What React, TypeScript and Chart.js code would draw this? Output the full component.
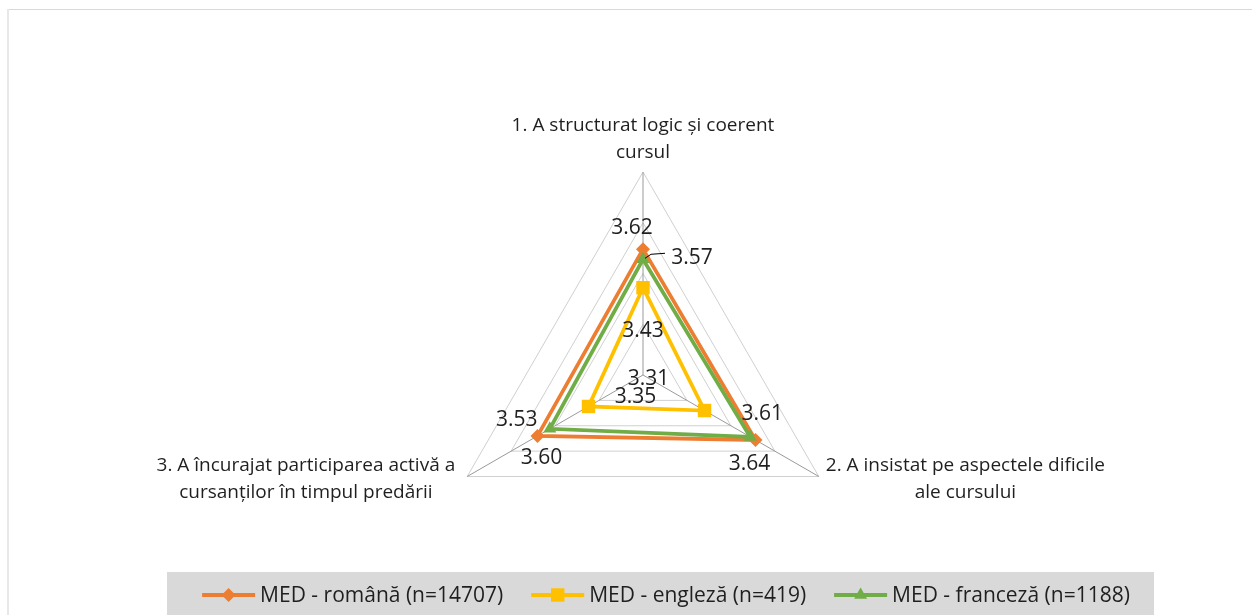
import { useEffect, useRef } from 'react';
import { Chart, registerables } from 'chart.js';

Chart.register(...registerables);

// ---- data ----
const categories: string[][] = [
  ['1. A structurat logic și coerent', 'cursul'],
  ['2. A insistat pe aspectele dificile', 'ale cursului'],
  ['3. A încurajat participarea activă a', 'cursanților în timpul predării'],
];
const seriesNames = ['MED - română (n=14707)', 'MED - engleză (n=419)', 'MED - franceză (n=1188)'];
const romana = [3.62, 3.64, 3.6];
const engleza = [3.43, 3.35, 3.31];
const franceza = [3.57, 3.61, 3.53];
const scaleMin = 3;
const scaleMax = 4;
const scaleStep = 0.25;

// ---- styling (not data) ----
const colors = ['#ED7D31', '#FFC000', '#70AD47'];
const markers = ['rectRot', 'rect', 'triangle'];
const markerRadius = [7, 9.5, 7.5];
const drawOrder = [3, 2, 1];
// label offsets from each point (dx, dy), per series per category
const labelOffsets = [
  [[-11, -21], [-6, 24], [4, 22]],
  [[0, 43], [-69, -14], [60, -27]],
  [[49, -1], [12, -23], [-33, -9]],
];
const FONT = '"Open Sans", Lato, sans-serif';
const TEXT = '#1f1f1f';

function fmt(v: number) {
  return v.toFixed(2);
}

function drawMarker(ctx: CanvasRenderingContext2D, kind: string, x: number, y: number, r: number, color: string) {
  ctx.save();
  ctx.fillStyle = color;
  ctx.beginPath();
  if (kind === 'rectRot') {
    ctx.moveTo(x, y - r);
    ctx.lineTo(x + r, y);
    ctx.lineTo(x, y + r);
    ctx.lineTo(x - r, y);
  } else if (kind === 'rect') {
    const s = r * Math.SQRT1_2;
    ctx.rect(x - s, y - s, 2 * s, 2 * s);
  } else {
    ctx.moveTo(x, y - r);
    ctx.lineTo(x + r * Math.sin((2 * Math.PI) / 3), y - r * Math.cos((2 * Math.PI) / 3));
    ctx.lineTo(x + r * Math.sin((4 * Math.PI) / 3), y - r * Math.cos((4 * Math.PI) / 3));
  }
  ctx.closePath();
  ctx.fill();
  ctx.restore();
}

const decorPlugin = {
  id: 'decor',
  beforeDraw(chart: any) {
    const ctx: CanvasRenderingContext2D = chart.ctx;
    ctx.save();
    ctx.fillStyle = '#ffffff';
    ctx.fillRect(0, 0, chart.width, chart.height);
    // outer chart border (top and left visible)
    ctx.fillStyle = '#d9d9d9';
    ctx.fillRect(8, 9, chart.width - 8, 1);
    ctx.fillStyle = '#e8e8e8';
    ctx.fillRect(7, 9, 2, chart.height - 9);
    // legend background
    ctx.fillStyle = '#d9d9d9';
    ctx.fillRect(167, 572, 1154 - 167, chart.height - 572);
    ctx.restore();
  },
  afterDraw(chart: any) {
    const ctx: CanvasRenderingContext2D = chart.ctx;
    const scale = chart.scales.r;
    ctx.save();
    // category labels
    ctx.font = `19px ${FONT}`;
    ctx.fillStyle = TEXT;
    ctx.textAlign = 'center';
    ctx.textBaseline = 'middle';
    categories.forEach((lines, i) => {
      const p = scale.getPointPosition(i, scale.drawingArea);
      const w = Math.max(...lines.map((l) => ctx.measureText(l).width));
      let cx = p.x;
      let y0 = p.y;
      if (i === 0) {
        y0 = p.y - 46;
      } else if (i === 1) {
        cx = p.x + 7 + w / 2;
        y0 = p.y - 11;
      } else {
        cx = p.x - 12 - w / 2;
        y0 = p.y - 11;
      }
      lines.forEach((l, k) => ctx.fillText(l, cx, y0 + k * 27));
    });

    // data labels
    ctx.font = `21px ${FONT}`;
    chart.data.datasets.forEach((ds: any, di: number) => {
      const meta = chart.getDatasetMeta(di);
      meta.data.forEach((pt: any, i: number) => {
        const [dx, dy] = labelOffsets[di][i];
        const tx = pt.x + dx;
        const ty = pt.y + dy;
        if (di === 2 && i === 0) {
          // leader line
          ctx.strokeStyle = '#000000';
          ctx.lineWidth = 1;
          ctx.beginPath();
          ctx.moveTo(pt.x + 2, pt.y - 1);
          ctx.lineTo(pt.x + 8, pt.y - 5);
          ctx.lineTo(pt.x + 22, pt.y - 6);
          ctx.stroke();
        }
        ctx.fillStyle = TEXT;
        ctx.fillText(fmt(ds.data[i]), tx, ty);
      });
    });

    // legend
    ctx.font = `21px ${FONT}`;
    ctx.textAlign = 'left';
    const lineLen = 53;
    const gapText = 5;
    const gapItem = 28;
    const widths = seriesNames.map((n) => ctx.measureText(n).width);
    const total = widths.reduce((a, w) => a + lineLen + gapText + w, 0) + gapItem * (seriesNames.length - 1);
    let x = 666 - total / 2;
    const ly = 595;
    seriesNames.forEach((name, i) => {
      ctx.strokeStyle = colors[i];
      ctx.lineWidth = 4;
      ctx.beginPath();
      ctx.moveTo(x, ly);
      ctx.lineTo(x + lineLen, ly);
      ctx.stroke();
      drawMarker(ctx, markers[i], x + lineLen / 2, ly, markerRadius[i], colors[i]);
      ctx.fillStyle = TEXT;
      ctx.fillText(name, x + lineLen + gapText, ly + 1);
      x += lineLen + gapText + widths[i] + gapItem;
    });
    ctx.restore();
  },
};

export default function App() {
  const ref = useRef<HTMLCanvasElement | null>(null);
  useEffect(() => {
    if (!ref.current) return;
    const series = [romana, engleza, franceza];
    const chart = new Chart(ref.current, {
      type: 'radar',
      data: {
        labels: categories.map((c) => c.join(' ')),
        datasets: series.map((values, i) => ({
          label: seriesNames[i],
          data: values,
          borderColor: colors[i],
          backgroundColor: colors[i],
          borderWidth: 3.75,
          fill: false,
          pointStyle: markers[i] as any,
          pointRadius: markerRadius[i],
          pointBorderWidth: 0,
          pointBackgroundColor: colors[i],
          pointBorderColor: colors[i],
          order: drawOrder[i],
        })),
      },
      options: {
        responsive: false,
        animation: false,
        devicePixelRatio: 1,
        layout: { padding: { left: 440, top: 172, right: 406, bottom: 37 } },
        plugins: { legend: { display: false }, tooltip: { enabled: false } },
        elements: { line: { tension: 0 } },
        scales: {
          r: {
            min: scaleMin,
            max: scaleMax,
            ticks: { stepSize: scaleStep, display: false },
            grid: { color: '#d0d0d0', lineWidth: 1 },
            angleLines: { color: '#9a9a9a', lineWidth: 1 },
            pointLabels: { display: false },
          },
        },
      },
      plugins: [decorPlugin],
    });
    return () => chart.destroy();
  }, []);
  return (
    <div style={{ position: 'fixed', left: 0, top: 0, width: 1252, height: 615, overflow: 'hidden' }}>
      <canvas ref={ref} width={1252} height={615} style={{ display: 'block' }} />
    </div>
  );
}
